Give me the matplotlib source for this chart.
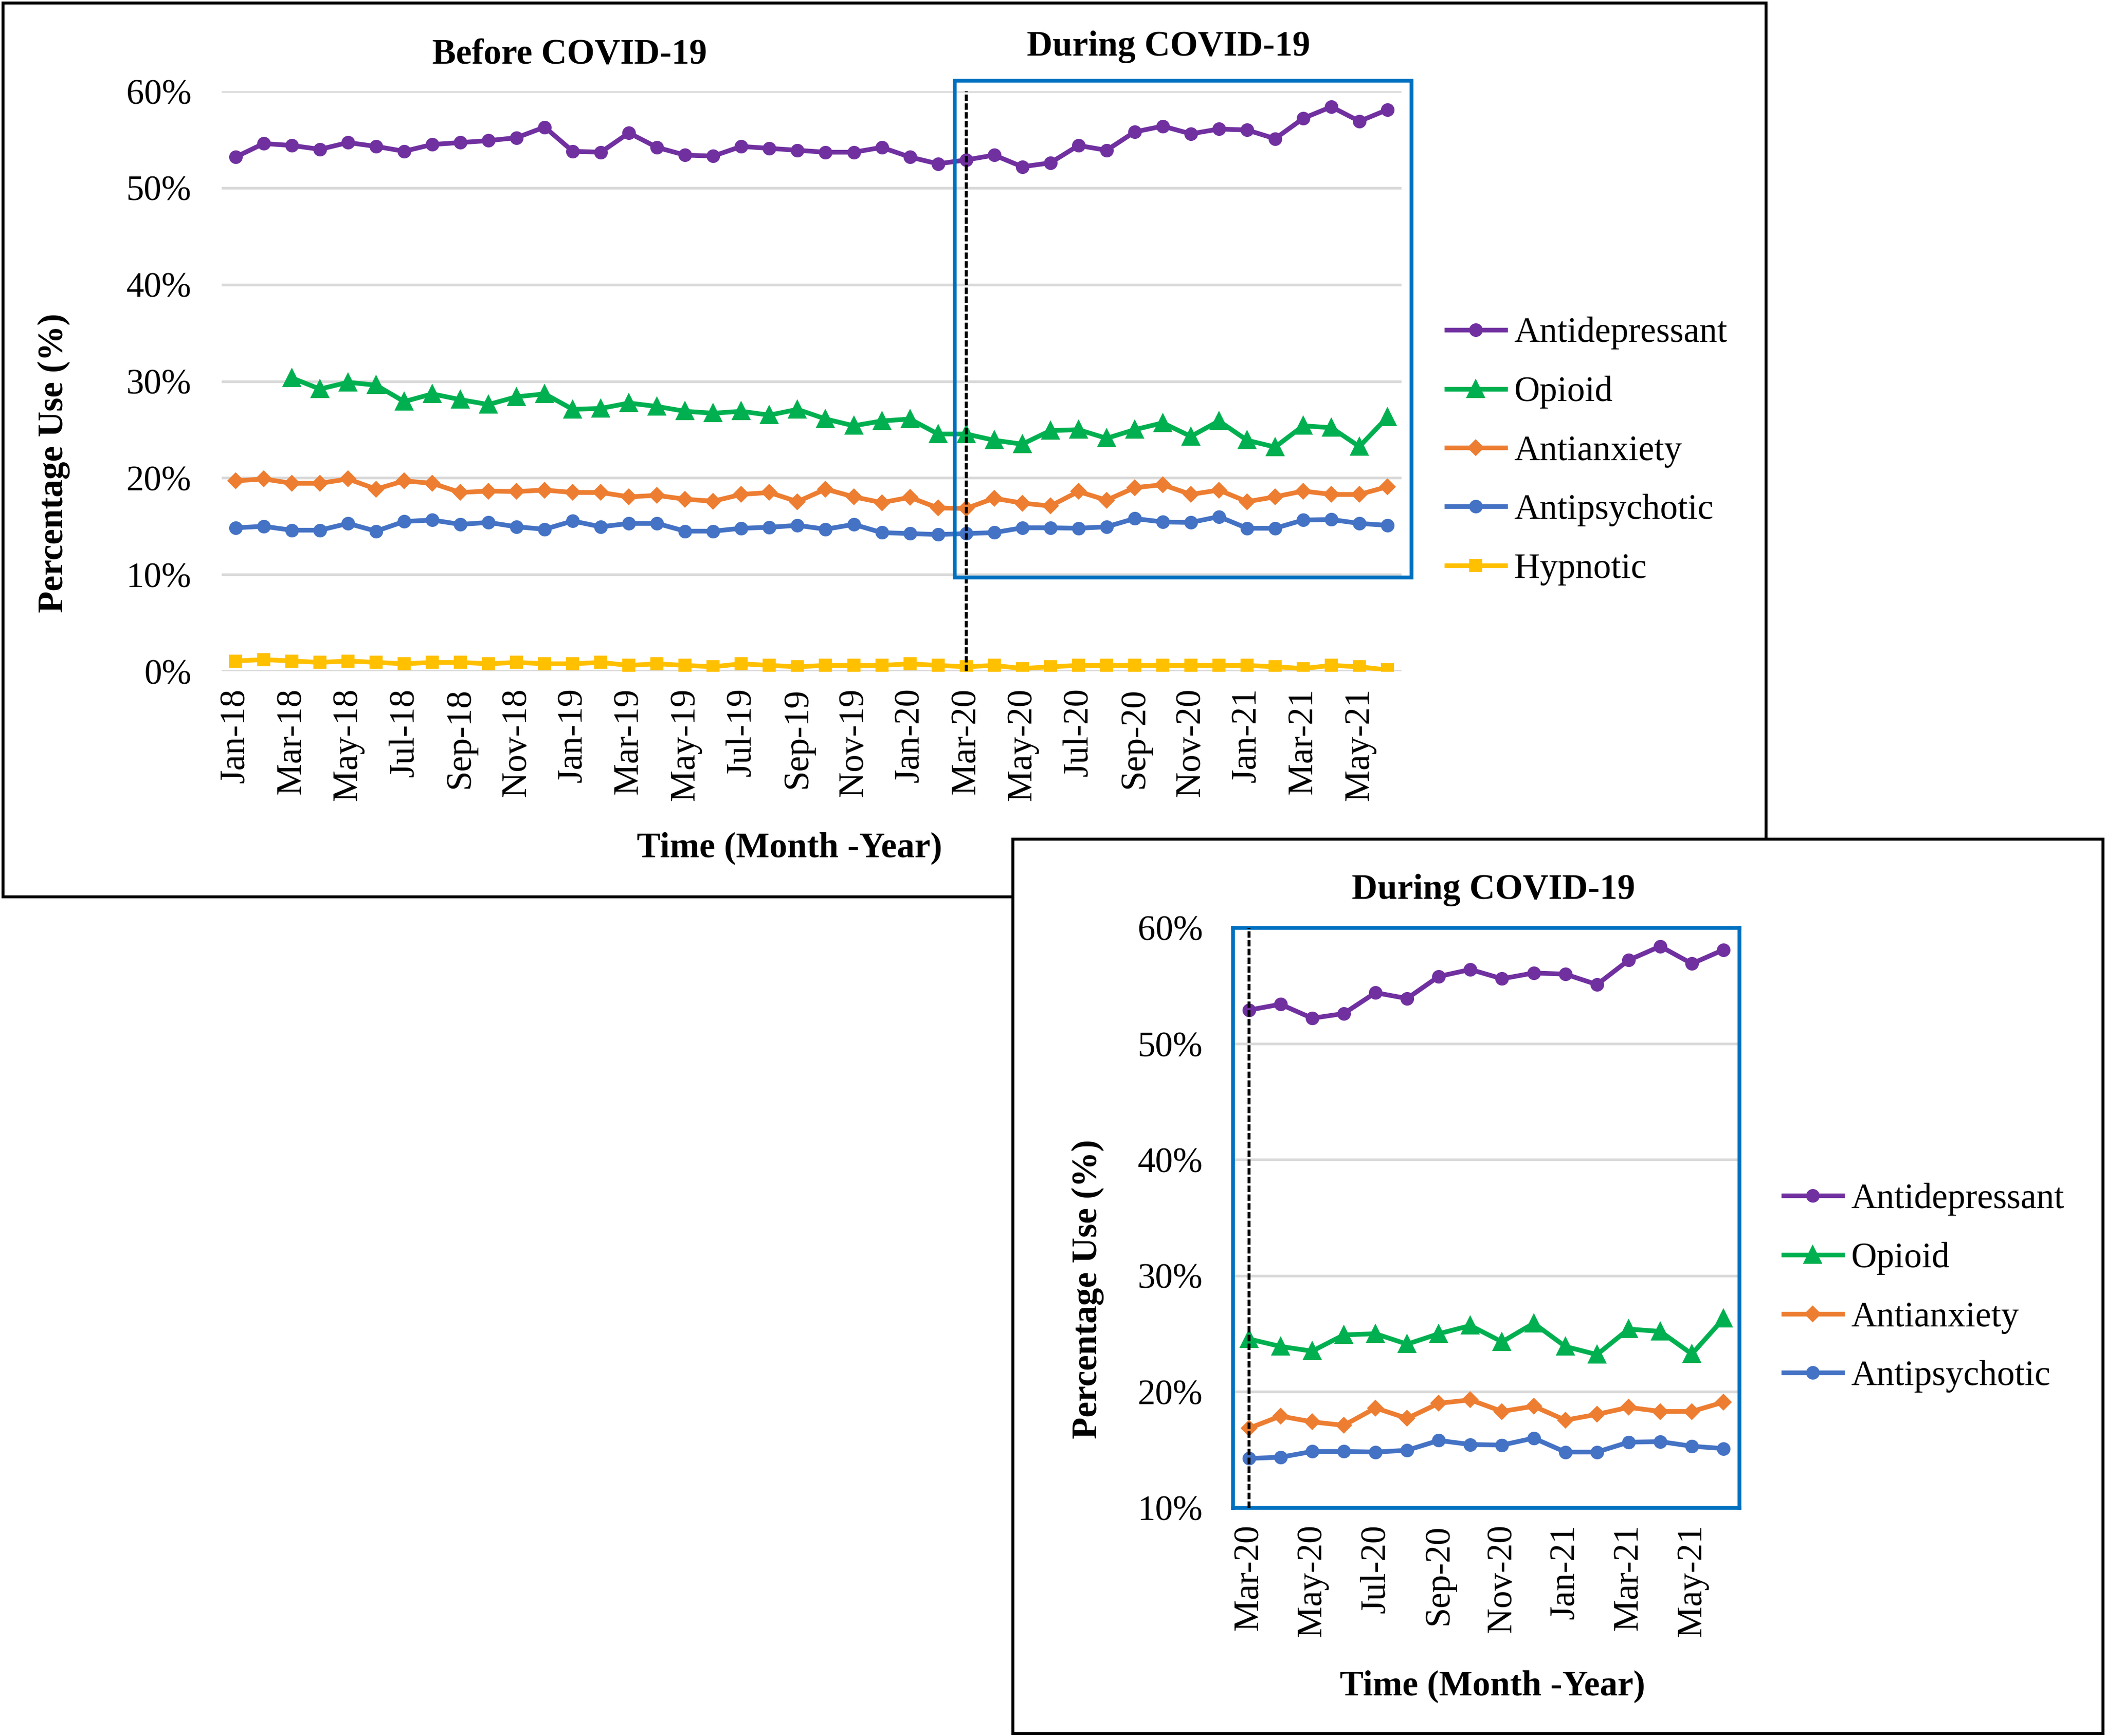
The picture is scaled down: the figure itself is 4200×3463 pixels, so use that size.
import numpy as np
import matplotlib
matplotlib.use("Agg")
import matplotlib.pyplot as plt
from matplotlib.patches import Rectangle

plt.rcParams['font.family'] = ['Liberation Serif', 'DejaVu Serif']

# %% data (percentage use, Jan-18 .. Jun-21)
months = ['Jan-18', 'Feb-18', 'Mar-18', 'Apr-18', 'May-18', 'Jun-18', 'Jul-18', 'Aug-18',
          'Sep-18', 'Oct-18', 'Nov-18', 'Dec-18', 'Jan-19', 'Feb-19', 'Mar-19', 'Apr-19',
          'May-19', 'Jun-19', 'Jul-19', 'Aug-19', 'Sep-19', 'Oct-19', 'Nov-19', 'Dec-19',
          'Jan-20', 'Feb-20', 'Mar-20', 'Apr-20', 'May-20', 'Jun-20', 'Jul-20', 'Aug-20',
          'Sep-20', 'Oct-20', 'Nov-20', 'Dec-20', 'Jan-21', 'Feb-21', 'Mar-21', 'Apr-21',
          'May-21', 'Jun-21']

antidepressant = [53.2, 54.6, 54.4, 54.0, 54.7, 54.3, 53.8, 54.5, 54.7, 54.9,
                  55.2, 56.3, 53.8, 53.7, 55.7, 54.2, 53.4, 53.3, 54.3, 54.1,
                  53.9, 53.7, 53.7, 54.2, 53.2, 52.5, 52.9, 53.4, 52.2, 52.6,
                  54.4, 53.9, 55.8, 56.4, 55.6, 56.1, 56.0, 55.1, 57.2, 58.4,
                  56.9, 58.1]
opioid = [np.nan, np.nan, 30.35, 29.2, 29.9, 29.6, 27.9, 28.7, 28.1, 27.6,
          28.4, 28.7, 27.1, 27.2, 27.75, 27.4, 26.9, 26.7, 26.9, 26.5,
          27.1, 26.1, 25.4, 25.9, 26.1, 24.55, 24.55, 23.9, 23.5, 24.9,
          25.0, 24.1, 25.0, 25.7, 24.3, 25.9, 23.9, 23.2, 25.4, 25.2,
          23.25, 26.3]
antianxiety = [19.7, 19.9, 19.45, 19.45, 19.9, 18.85, 19.7, 19.45, 18.5, 18.65,
               18.6, 18.75, 18.5, 18.5, 18.05, 18.2, 17.8, 17.6, 18.3, 18.5,
               17.55, 18.85, 18.05, 17.45, 18.0, 16.9, 16.85, 17.9, 17.4, 17.1,
               18.6, 17.7, 19.0, 19.3, 18.3, 18.75, 17.55, 18.05, 18.65, 18.3,
               18.3, 19.1]
antipsychotic = [14.85, 15.0, 14.6, 14.6, 15.3, 14.5, 15.5, 15.65, 15.2, 15.4,
                 14.95, 14.7, 15.55, 14.95, 15.3, 15.3, 14.5, 14.5, 14.8, 14.9,
                 15.1, 14.7, 15.2, 14.35, 14.25, 14.15, 14.25, 14.35, 14.85, 14.85,
                 14.8, 14.95, 15.8, 15.45, 15.4, 16.0, 14.8, 14.8, 15.65, 15.7,
                 15.3, 15.1]
hypnotic = [1.07, 1.21, 1.07, 0.92, 1.07, 0.92, 0.78, 0.92, 0.92, 0.78,
            0.92, 0.78, 0.78, 0.92, 0.61, 0.78, 0.61, 0.47, 0.78, 0.61,
            0.47, 0.61, 0.61, 0.61, 0.78, 0.61, 0.47, 0.61, 0.29, 0.47,
            0.61, 0.61, 0.61, 0.61, 0.61, 0.61, 0.61, 0.47, 0.29, 0.61,
            0.47, 0.14]

covid_start = 'Mar-20'

# %% styles
series = [
    ('Antidepressant', antidepressant, '#7030A0', 'o', 5.5),
    ('Opioid', opioid, '#00B050', '^', 7.5),
    ('Antianxiety', antianxiety, '#ED7D31', 'D', 4.8),
    ('Antipsychotic', antipsychotic, '#4472C4', 'o', 5.5),
    ('Hypnotic', hypnotic, '#FFC000', 's', 5.5),
]
FS = 17
grid_c = '#D9D9D9'
box_c = '#0070C0'

x = np.arange(len(months))
i0 = months.index(covid_start)

fig = plt.figure(figsize=(14, 3463 / 300), dpi=300)

# outer frames
fig.add_artist(Rectangle((0.0015, 0.4834), 0.8371, 0.515, transform=fig.transFigure,
                         fill=False, edgecolor='black', linewidth=1.4, zorder=1))
fig.add_artist(Rectangle((0.4809, 0.0015), 0.5176, 0.5151, transform=fig.transFigure,
                         facecolor='white', edgecolor='black', linewidth=1.4, zorder=2))


def style_axes(ax, ymin, ymax, tick_idx):
    ax.set_ylim(ymin, ymax)
    ax.set_yticks(np.arange(ymin, ymax + 1, 10))
    ax.set_yticklabels([f'{v:d}%' for v in range(ymin, ymax + 1, 10)], fontsize=FS)
    ax.set_xticks(tick_idx)
    ax.set_xticklabels([months[i] for i in tick_idx], rotation=90, fontsize=FS)
    ax.tick_params(axis='y', length=0, pad=14.5)
    ax.tick_params(axis='x', length=0, pad=8)
    ax.grid(axis='y', color=grid_c, linewidth=1.3, zorder=0)
    ax.set_axisbelow(True)


# %% main chart: whole period
ax = fig.add_axes([0.1052, 0.6133, 0.5603, 0.3341])
for name, vals, col, mk, ms in series:
    ax.plot(x, vals, color=col, marker=mk, markersize=ms, linewidth=2.25, label=name)
ax.set_xlim(-0.5, len(months) - 0.5)
style_axes(ax, 0, 60, list(range(0, len(months), 2)))
for s in ax.spines.values():
    s.set_visible(False)
ax.plot([i0, i0], [0, 60], color='black', linestyle=(0, (2.2, 0.8)), linewidth=1.4,
        clip_on=False, zorder=5)
ax.add_patch(Rectangle((i0 - 0.4, 9.7), len(months) + 0.25 - i0, 51.4, fill=False,
                       edgecolor=box_c, linewidth=1.8, clip_on=False, zorder=6))

fig.legend(*ax.get_legend_handles_labels(), loc='upper left',
           bbox_to_anchor=(0.6869, 0.8175), frameon=False, fontsize=FS,
           handlelength=1.65, handletextpad=0.25, labelspacing=0.74,
           borderpad=0, borderaxespad=0)

fig.text(0.2704, 0.9683, 'Before COVID-19', ha='center', va='center',
         fontsize=FS, fontweight='bold')
fig.text(0.5548, 0.9729, 'During COVID-19', ha='center', va='center',
         fontsize=FS, fontweight='bold')
fig.text(0.375, 0.5112, 'Time (Month -Year)', ha='center', va='center',
         fontsize=FS, fontweight='bold')
fig.text(0.0255, 0.7332, 'Percentage Use (%)', ha='center', va='center',
         rotation=90, fontsize=FS, fontweight='bold')

# %% inset: during COVID-19
ax2 = fig.add_axes([0.5855, 0.1315, 0.2404, 0.3341], zorder=3)
for name, vals, col, mk, ms in series[:4]:
    ax2.plot(x[i0:], vals[i0:], color=col, marker=mk, markersize=ms,
             linewidth=2.25, label=name)
ax2.set_xlim(i0 - 0.5, len(months) - 0.5)
style_axes(ax2, 10, 60, list(range(i0, len(months), 2)))
for s in ax2.spines.values():
    s.set_color(box_c)
    s.set_linewidth(1.8)
ax2.plot([i0, i0], [10, 60], color='black', linestyle=(0, (2.2, 0.8)), linewidth=1.4,
         zorder=5)

leg2 = fig.legend(*ax2.get_legend_handles_labels(), loc='upper left',
                  bbox_to_anchor=(0.8469, 0.3186), frameon=False, fontsize=FS,
                  handlelength=1.65, handletextpad=0.25, labelspacing=0.74,
                  borderpad=0, borderaxespad=0)
leg2.set_zorder(5)

fig.text(0.7092, 0.4872, 'During COVID-19', ha='center', va='center',
         fontsize=FS, fontweight='bold', zorder=5)
fig.text(0.7086, 0.0286, 'Time (Month -Year)', ha='center', va='center',
         fontsize=FS, fontweight='bold', zorder=5)
fig.text(0.5166, 0.2575, 'Percentage Use (%)', ha='center', va='center',
         rotation=90, fontsize=FS, fontweight='bold', zorder=5)

fig.savefig('out.png', dpi=300, facecolor='white')
